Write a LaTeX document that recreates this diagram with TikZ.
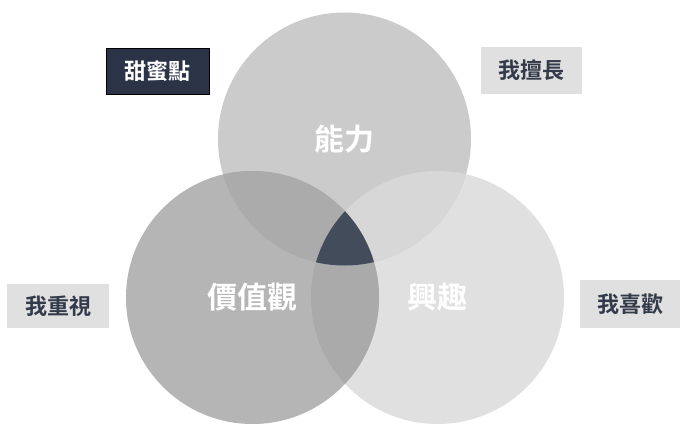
\documentclass[tikz,border=0pt]{standalone}
\usepackage{fontspec}
\newfontfamily\cjk{Noto Sans CJK TC}[BoldFont={* Bold}]
\definecolor{cTop}{HTML}{CBCBCB}
\definecolor{cLeft}{HTML}{B5B5B5}
\definecolor{cRight}{HTML}{E0E0E0}
\definecolor{cTL}{HTML}{ABABAB}
\definecolor{cTR}{HTML}{D7D7D7}
\definecolor{cLR}{HTML}{AAAAAA}
\definecolor{cCenter}{HTML}{434C5B}
\definecolor{cDark}{HTML}{2B3447}
\definecolor{cText}{HTML}{333B4A}
\definecolor{cBox}{HTML}{E0E0E0}
\begin{document}
\begin{tikzpicture}[x=1pt,y=-1pt,
  tagbox/.style={fill=cBox, text=cText, inner sep=0pt, font=\cjk\bfseries\fontsize{22}{24}\selectfont},
  sweetbox/.style={fill=cDark, draw=black, line width=0.8pt, text=white, inner sep=0pt, font=\cjk\bfseries\fontsize{22}{24}\selectfont},
  circlabel/.style={text=white, font=\cjk\bfseries\fontsize{30}{32}\selectfont}]
\useasboundingbox (0,0) rectangle (691,439);
\fill[white] (0,0) rectangle (691,439);
% circles
\coordinate (ct) at (344.5,139);
\coordinate (cl) at (252.5,297.5);
\coordinate (cr) at (437.5,297.5);
\def\R{126.5}
\fill[cRight] (cr) circle (\R);
\fill[cTop] (ct) circle (\R);
\fill[cLeft] (cl) circle (\R);
\begin{scope}
  \clip (ct) circle (\R);
  \fill[cTR] (cr) circle (\R);
  \fill[cTL] (cl) circle (\R);
\end{scope}
\begin{scope}
  \clip (cl) circle (\R);
  \fill[cLR] (cr) circle (\R);
  \clip (ct) circle (\R);
  \fill[cCenter] (cr) circle (\R);
\end{scope}
% circle labels
\node[circlabel] (ability) at (344.5,139) {能力};
\node[circlabel] (value) at (252.5,297) {價值觀};
\node[circlabel] (interest) at (437.5,297) {興趣};
% tag boxes
\node[sweetbox, minimum width=103pt, minimum height=46pt] (sweet) at (157.5,71.5) {甜蜜點};
\node[tagbox, minimum width=101pt, minimum height=47pt] (good) at (531.5,70.5) {我擅長};
\node[tagbox, minimum width=102pt, minimum height=44pt] (care) at (58,306) {我重視};
\node[tagbox, minimum width=100pt, minimum height=48pt] (like) at (630,304) {我喜歡};
\end{tikzpicture}
\end{document}
